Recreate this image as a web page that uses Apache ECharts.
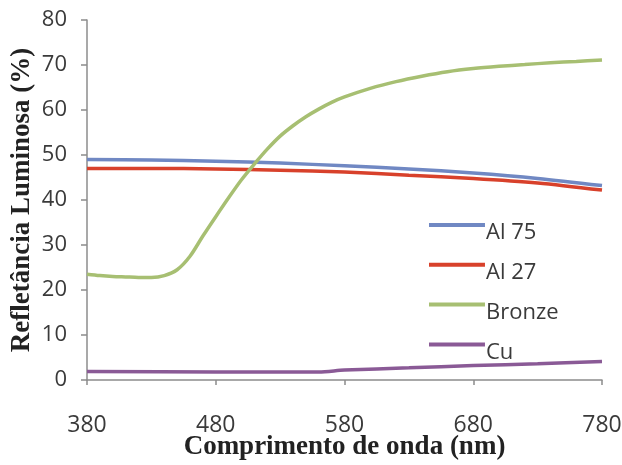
<!DOCTYPE html>
<html>
<head>
<meta charset="utf-8">
<script src="https://cdn.jsdelivr.net/npm/echarts@6/dist/echarts.min.js"></script>
<style>html,body{margin:0;padding:0;background:#fff;}#c{width:622px;height:465px;}</style>
</head>
<body>
<div id="c"></div>
<script>
const seriesNames = ['Al 75', 'Al 27', 'Bronze', 'Cu'];
const xTicks = [380, 480, 580, 680, 780];
const yTicks = [0, 10, 20, 30, 40, 50, 60, 70, 80];

const wlAl = [380, 430, 480, 530, 580, 630, 680, 730, 780];
const al75 = [49.0, 48.9, 48.6, 48.2, 47.6, 46.9, 46.0, 44.8, 43.2];
const al27 = [47.0, 47.0, 46.9, 46.6, 46.2, 45.5, 44.8, 43.8, 42.2];

const wlBronze = [380, 390, 400, 410, 420, 430, 440, 450, 460, 470, 480, 490, 500, 510, 520, 530, 540, 550, 560, 570, 580, 600, 620, 640, 660, 680, 700, 720, 740, 760, 780];
const bronze = [23.5, 23.2, 23.0, 22.9, 22.8, 22.8, 23.2, 24.5, 27.5, 32.0, 36.3, 40.5, 44.5, 48.0, 51.3, 54.2, 56.5, 58.5, 60.2, 61.7, 62.9, 64.8, 66.3, 67.5, 68.5, 69.2, 69.7, 70.1, 70.5, 70.8, 71.1];

const wlCu = [380, 480, 560, 580, 630, 680, 730, 780];
const cu = [1.9, 1.8, 1.8, 2.2, 2.7, 3.2, 3.6, 4.1];

const colors = ['#7088c3', '#d8412b', '#a7bf72', '#8a5a96'];

function pairs(xs, ys) { return xs.map((x, i) => [x, ys[i]]); }

const chart = echarts.init(document.getElementById('c'), null, {renderer: 'canvas'});
const lineW = 3.5;
chart.setOption({
  animation: false,
  backgroundColor: '#ffffff',
  color: colors,
  grid: {left: 87, right: 20, top: 20, bottom: 85, containLabel: false, outerBoundsMode: 'none'},
  legend: {
    orient: 'vertical',
    left: 424,
    top: 217,
    itemWidth: 56,
    itemHeight: 20,
    itemGap: 17.8,
    icon: 'path://M0,0H56V4H0Z M0,20H0.01V20.01Z',
    textStyle: {fontFamily: 'Open Sans', fontSize: 22, color: '#3a3a3a', padding: [0, 0, 0, -4]},
    data: seriesNames
  },
  xAxis: {
    type: 'value',
    min: 380,
    max: 780,
    name: 'Comprimento de onda (nm)',
    nameLocation: 'middle',
    nameGap: 54,
    nameMoveOverlap: false,
    nameTextStyle: {fontFamily: 'Liberation Serif', fontWeight: 'bold', fontSize: 27, color: '#222'},
    axisLine: {show: true, lineStyle: {color: '#8c8c8c', width: 1.5}},
    axisTick: {show: true, length: 5, customValues: xTicks, lineStyle: {color: '#8c8c8c', width: 1.5}},
    axisLabel: {customValues: xTicks, margin: 34, fontFamily: 'Open Sans', fontSize: 23, color: '#3a3a3a'},
    splitLine: {show: false}
  },
  yAxis: {
    type: 'value',
    min: 0,
    max: 80,
    interval: 10,
    name: 'Refletância Luminosa (%)',
    nameLocation: 'middle',
    nameGap: 51,
    nameMoveOverlap: false,
    nameTextStyle: {fontFamily: 'Liberation Serif', fontWeight: 'bold', fontSize: 27, color: '#222'},
    axisLine: {show: true, lineStyle: {color: '#8c8c8c', width: 1.5}},
    axisTick: {show: true, length: 6, lineStyle: {color: '#8c8c8c', width: 1.5}},
    axisLabel: {margin: 20, fontFamily: 'Open Sans', fontSize: 22, color: '#3a3a3a'},
    splitLine: {show: false}
  },
  series: [
    {name: seriesNames[0], type: 'line', smooth: 0.3, showSymbol: false, lineStyle: {width: lineW}, data: pairs(wlAl, al75)},
    {name: seriesNames[1], type: 'line', smooth: 0.3, showSymbol: false, lineStyle: {width: lineW}, data: pairs(wlAl, al27)},
    {name: seriesNames[2], type: 'line', smooth: 0.3, showSymbol: false, lineStyle: {width: lineW}, data: pairs(wlBronze, bronze)},
    {name: seriesNames[3], type: 'line', smooth: 0.3, showSymbol: false, lineStyle: {width: lineW}, data: pairs(wlCu, cu)}
  ]
});
</script>
</body>
</html>
